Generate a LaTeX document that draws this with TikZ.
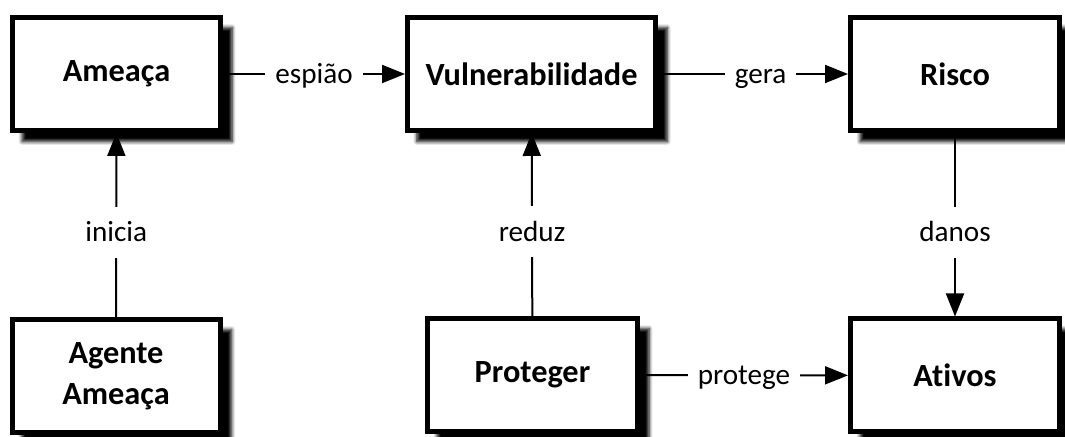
\documentclass[tikz,border=0pt]{standalone}
\usepackage{fontspec}
\setmainfont{Carlito}[Ligatures=NoCommon]
\usetikzlibrary{arrows.meta,shadows.blur}
\tikzset{
bloco/.style={draw, line width=0.5mm, fill=white, minimum width=2.08cm, minimum height=1.13cm,
  align=center, font=\fontsize{9.2}{11.6}\selectfont\bfseries,
  blur shadow={shadow xshift=1.05mm, shadow yshift=-1.05mm, shadow scale=1.01, shadow blur radius=0.35mm,
    shadow blur steps=6, shadow opacity=100}},
link/.style={line width=0.2mm, -{Triangle[length=2.3mm,width=1.8mm]}},
lbl/.style={fill=white, inner sep=1mm, text height=1.5ex, text depth=0.35ex, font=\fontsize{8.3}{9.8}\selectfont}
}
\begin{document}
\begin{tikzpicture}
  \useasboundingbox (0,0) rectangle (10.65,4.37);
  \node[bloco] (ameaca) at (1.165,3.63) {Ameaça};
  \node[bloco, minimum width=2.48cm] (vuln) at (5.315,3.63) {Vulnerabilidade};
  \node[bloco, minimum width=2.09cm] (risco) at (9.55,3.63) {Risco};
  \node[bloco] (agente) at (1.16,0.61) {Agente\\Ameaça};
  \node[bloco, minimum width=2.10cm] (proteger) at (5.325,0.62) {Proteger};
  \node[bloco, minimum width=2.09cm] (ativos) at (9.55,0.615) {Ativos};
  \draw[link] (ameaca) -- node[lbl] {espião} (vuln);
  \draw[link] (vuln) -- node[lbl, pos=0.54] {gera} (risco);
  \draw[link] (agente) -- node[lbl, pos=0.46] {inicia} (ameaca);
  \draw[link] (proteger) -- node[lbl, pos=0.46] {reduz} (vuln);
  \draw[link] (risco) -- node[lbl, pos=0.54] {danos} (ativos);
  \draw[link] (proteger) -- node[lbl] {protege} (ativos);
\end{tikzpicture}
\end{document}
